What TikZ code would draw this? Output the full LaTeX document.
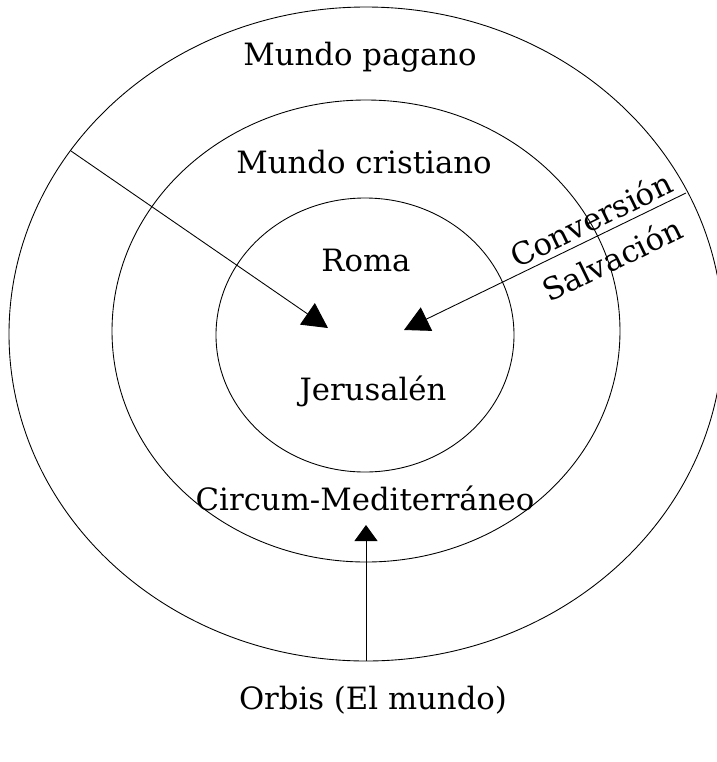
\documentclass[tikz,border=0pt]{standalone}
\usepackage{fontspec}
\setmainfont{DejaVu Serif}
\usetikzlibrary{arrows.meta}

\begin{document}
\begin{tikzpicture}[x=0.02cm,y=-0.02cm,line width=0.5pt,>={Triangle[length=0.5cm,width=0.52cm]},
  lbl/.style={font=\fontsize{17.5}{21}\selectfont}]
\useasboundingbox (0,0) rectangle (717,762);
% the three worlds
\draw (366,334) ellipse [x radius=357,y radius=327];
\draw (366,331) ellipse [x radius=254,y radius=231];
\draw (365,335) ellipse [x radius=149,y radius=137];
\node[lbl] (pagano) at (360,57) {Mundo pagano};
\node[lbl] (cristiano) at (364,162) {Mundo cristiano};
\node[lbl] (roma) at (366,261) {Roma};
\node[lbl] (jerusalen) at (373,391) {Jerusalén};
\node[lbl] (circum) at (365,498) {Circum-Mediterráneo};
\node[lbl] (orbis) at (373,700) {Orbis (El mundo)};
% arrows towards the centre
\coordinate (w) at (71,151);
\coordinate (e) at (686,193);
\coordinate (s) at (366,661);
\coordinate (wtip) at (328,328);
\coordinate (etip) at (404,330);
\coordinate (stip) at (366,525);
\draw[->] (w) -- (wtip);
\draw[->] (e) -- (etip);
\draw[-{Triangle[length=0.32cm,width=0.46cm]}] (s) -- (stip);
\node[lbl,rotate=26,inner sep=0pt] (conversion) at (591,219) {Conversión};
\node[lbl,rotate=26,inner sep=0pt] (salvacion) at (612,259) {Salvación};
\end{tikzpicture}
\end{document}
